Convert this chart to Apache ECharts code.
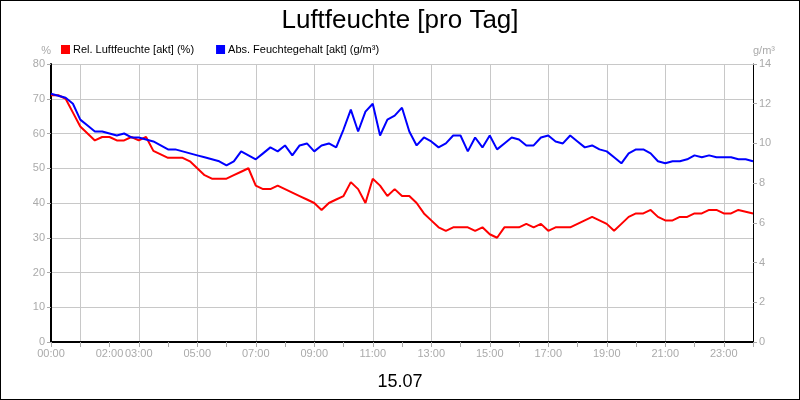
<!DOCTYPE html><html><head><meta charset="utf-8"><script src="https://cdn.jsdelivr.net/npm/echarts@6/dist/echarts.min.js"></script>
<style>html,body{margin:0;padding:0}#c{width:798px;height:398px;border:1px solid #000}</style></head><body><div id="c"></div><script>
const hours=[];for(let i=0;i<=96;i++){const h=Math.floor(i/4),m=(i%4)*15;hours.push(String(h).padStart(2,'0')+':'+String(m).padStart(2,'0'));}
const relHumidity=[71,71,70,66,62,60,58,59,59,58,58,59,58,59,55,54,53,53,53,52,50,48,47,47,47,48,49,50,45,44,44,45,44,43,42,41,40,38,40,41,42,46,44,40,47,45,42,44,42,42,40,37,35,33,32,33,33,33,32,33,31,30,33,33,33,34,33,34,32,33,33,33,34,35,36,35,34,32,34,36,37,37,38,36,35,35,36,36,37,37,38,38,37,37,38,37.5,37];
const absHumidity=[12.5,12.4,12.3,12.0,11.2,10.9,10.6,10.6,10.5,10.4,10.5,10.3,10.3,10.2,10.1,9.9,9.7,9.7,9.6,9.5,9.4,9.3,9.2,9.1,8.9,9.1,9.6,9.4,9.2,9.5,9.8,9.6,9.9,9.4,9.9,10.0,9.6,9.9,10.0,9.8,10.7,11.7,10.6,11.6,12.0,10.4,11.2,11.4,11.8,10.6,9.9,10.3,10.1,9.8,10.0,10.4,10.4,9.6,10.3,9.8,10.4,9.7,10.0,10.3,10.2,9.9,9.9,10.3,10.4,10.1,10.0,10.4,10.1,9.8,9.9,9.7,9.6,9.3,9.0,9.5,9.7,9.7,9.5,9.1,9.0,9.1,9.1,9.2,9.4,9.3,9.4,9.3,9.3,9.3,9.2,9.2,9.1];
const labelIdx=[0,8,12,20,28,36,44,52,60,68,76,84,92];
const c=echarts.init(document.getElementById('c'));
const gray='#aaa';
c.setOption({animation:false,backgroundColor:'#fff',
title:[{text:'Luftfeuchte [pro Tag]',left:'center',top:2,textStyle:{fontFamily:'Arial',fontSize:26,fontWeight:'normal',color:'#000'}},
{text:'15.07',left:'center',top:367,textStyle:{fontFamily:'Arial',fontSize:18,fontWeight:'normal',color:'#000'}}],
legend:{left:55,top:38,itemWidth:9,itemHeight:9,itemGap:22,icon:'rect',textStyle:{fontFamily:'Arial',fontSize:11,color:'#000',padding:[0,0,0,-2]},
data:['Rel. Luftfeuchte [akt] (%)','Abs. Feuchtegehalt [akt] (g/m³)']},
grid:{left:50,right:46,top:63,bottom:57},
xAxis:{type:'category',boundaryGap:false,data:hours,
axisLine:{lineStyle:{color:'#000',width:2}},
axisTick:{interval:(i)=>i%4===0,length:5,lineStyle:{color:gray}},
splitLine:{show:true,interval:(i)=>i%8===4,lineStyle:{color:'#c8c8c8'}},
axisLabel:{interval:(i)=>labelIdx.includes(i),color:gray,fontFamily:'Arial',fontSize:11,margin:6}},
yAxis:[{type:'value',min:0,max:80,interval:10,name:'%',nameGap:8,nameTextStyle:{color:gray,fontFamily:'Arial',fontSize:11,align:'right'},
axisLine:{show:true,lineStyle:{color:'#000',width:2}},axisTick:{show:true,length:4,lineStyle:{color:gray}},
axisLabel:{color:gray,fontFamily:'Arial',fontSize:11,margin:6},splitLine:{lineStyle:{color:'#c8c8c8'}}},
{type:'value',min:0,max:14,interval:2,name:'g/m³',nameGap:8,nameTextStyle:{color:gray,fontFamily:'Arial',fontSize:11,align:'left'},
axisLine:{show:true,lineStyle:{color:'#000',width:1}},axisTick:{show:true,length:4,lineStyle:{color:gray}},
axisLabel:{color:gray,fontFamily:'Arial',fontSize:11,margin:6},splitLine:{show:false}}],
series:[{name:'Rel. Luftfeuchte [akt] (%)',type:'line',data:relHumidity,yAxisIndex:0,showSymbol:false,color:'#f00',lineStyle:{width:2}},
{name:'Abs. Feuchtegehalt [akt] (g/m³)',type:'line',data:absHumidity,yAxisIndex:1,showSymbol:false,color:'#00f',lineStyle:{width:2}}]});
</script></body></html>
